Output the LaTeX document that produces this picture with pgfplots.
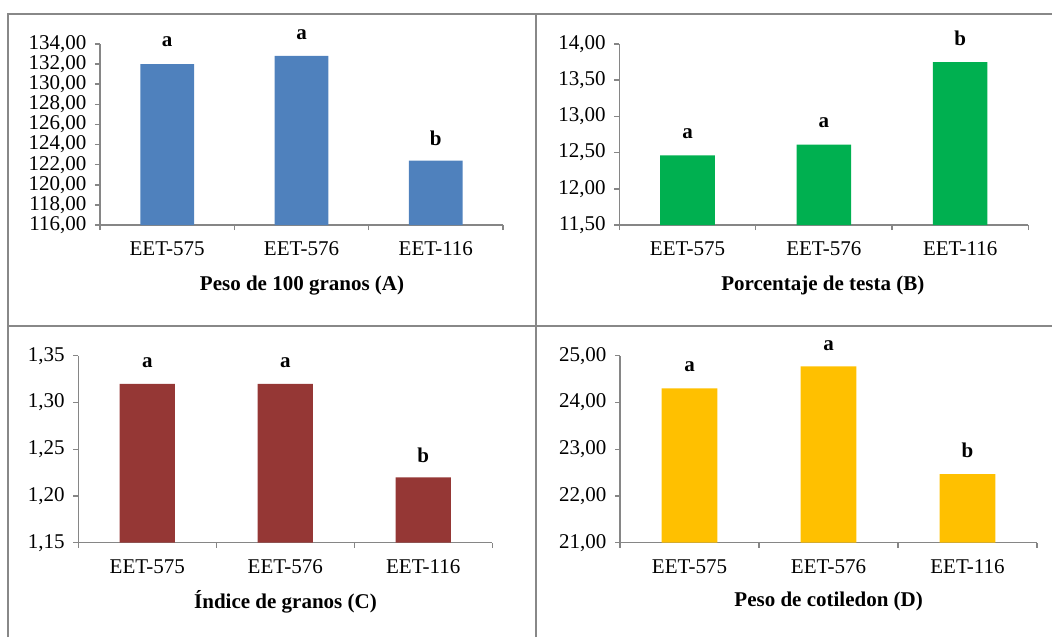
\documentclass[border=0pt]{standalone}
\usepackage{fontspec}
\setmainfont{Liberation Serif}
\usepackage{pgfplots}
\pgfplotsset{compat=1.18}
\definecolor{axgray}{HTML}{868686}
\definecolor{framegray}{HTML}{888888}
\definecolor{cA}{HTML}{4F81BD}
\definecolor{cB}{HTML}{00B050}
\definecolor{cC}{HTML}{953735}
\definecolor{cD}{HTML}{FFC000}
\newcommand\chartfont{\fontsize{15.75}{18}\selectfont}
\tikzset{lbl/.style={font=\bfseries\chartfont, inner sep=0pt}}
\pgfplotsset{
  panel/.style={
    scale only axis,
    xmin=-0.5, xmax=2.5,
    ybar, bar width=0.4,
    clip mode=individual,
    axis x line*=bottom, axis y line*=left,
    axis line style={axgray, line width=1.1pt},
    xtick={-0.5,0.5,1.5,2.5},
    x tick label as interval,
    xticklabels={EET-575,EET-576,EET-116},
    tick align=outside,
    major tick length=3.75pt,
    tick style={axgray, line width=1.1pt},
    ticklabel style={font=\chartfont},
    xticklabel style={yshift=-5.5pt},
    yticklabel style={xshift=-3pt},
    /pgf/number format/assume math mode=true,
    /pgf/number format/fixed,
    /pgf/number format/fixed zerofill,
    /pgf/number format/precision=2,
    /pgf/number format/use comma,
    /pgf/number format/1000 sep={},
  }
}
\begin{document}
\begin{tikzpicture}
\useasboundingbox (0,0) rectangle (789pt,477.75pt);
% frame lines
\draw[framegray, line width=1.5pt] (6pt,0) -- (6pt,467.25pt) -- (789pt,467.25pt);
\draw[framegray, line width=1.5pt] (402pt,0) -- (402pt,467.25pt);
\draw[framegray, line width=1.5pt] (6pt,233.25pt) -- (789pt,233.25pt);

% Panel A
\begin{axis}[panel, at={(75pt,309pt)}, anchor=south west,
  width=302.25pt, height=135.75pt,
  ymin=116, ymax=134, ytick={116,118,...,134}]
\addplot[fill=cA, draw=none] coordinates {(0,132.00) (1,132.83) (2,122.39)};
\node[lbl] at (axis cs:0,134.20) {a};
\node[lbl] at (axis cs:1,134.90) {a};
\node[lbl] at (axis cs:2,124.62) {b};
\end{axis}
\node[font=\bfseries\chartfont] at (226.5pt,263.5pt) {Peso de 100 granos (A)};

% Panel B
\begin{axis}[panel, at={(464.5pt,309pt)}, anchor=south west,
  width=306.75pt, height=135.75pt,
  ymin=11.5, ymax=14, ytick={11.5,12,...,14}]
\addplot[fill=cB, draw=none] coordinates {(0,12.46) (1,12.61) (2,13.75)};
\node[lbl] at (axis cs:0,12.757) {a};
\node[lbl] at (axis cs:1,12.913) {a};
\node[lbl] at (axis cs:2,14.072) {b};
\end{axis}
\node[font=\bfseries\chartfont] at (617.1pt,263.5pt) {Porcentaje de testa (B)};

% Panel C
\begin{axis}[panel, at={(58.7pt,70.7pt)}, anchor=south west,
  width=310.5pt, height=140.25pt,
  ymin=1.15, ymax=1.35, ytick={1.15,1.20,1.25,1.30,1.35}]
\addplot[fill=cC, draw=none] coordinates {(0,1.32) (1,1.32) (2,1.22)};
\node[lbl] at (axis cs:0,1.3424) {a};
\node[lbl] at (axis cs:1,1.3424) {a};
\node[lbl] at (axis cs:2,1.2438) {b};
\end{axis}
\node[font=\bfseries\chartfont] at (214.1pt,26.5pt) {Índice de granos (C)};

% Panel D
\begin{axis}[panel, at={(465pt,70.7pt)}, anchor=south west,
  width=312.75pt, height=140.25pt,
  ymin=21, ymax=25, ytick={21,22,...,25}]
\addplot[fill=cD, draw=none] coordinates {(0,24.30) (1,24.77) (2,22.47)};
\node[lbl] at (axis cs:0,24.765) {a};
\node[lbl] at (axis cs:1,25.21) {a};
\node[lbl] at (axis cs:2,22.97) {b};
\end{axis}
\node[font=\bfseries\chartfont] at (621.5pt,26.5pt) {Peso de cotiledon (D)};
\end{tikzpicture}
\end{document}
